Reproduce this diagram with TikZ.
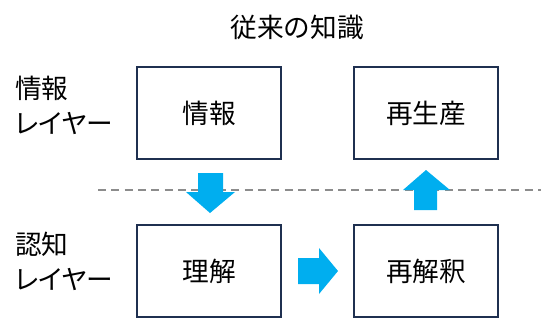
\documentclass[tikz,border=0pt]{standalone}
\usepackage{fontspec}
\setmainfont{Noto Sans CJK JP}
\newfontfamily\kanafont[RawFeature=+palt]{Noto Sans CJK JP}
\definecolor{boxline}{HTML}{1F3050}
\definecolor{arrowblue}{HTML}{00AEEF}
\definecolor{dashgray}{HTML}{8C8C8C}
\begin{document}
\begin{tikzpicture}[x=0.75pt,y=-0.75pt,
  lbl/.style={font=\fontsize{20pt}{26pt}\selectfont, inner sep=0pt},
  boxnode/.style={draw=boxline, line width=1.5pt, minimum width=108pt, minimum height=69pt, inner sep=0pt, font=\fontsize{20pt}{26pt}\selectfont},
  blockarrow/.style={fill=arrowblue, draw=none}]
\useasboundingbox (0,0) rectangle (541,319);
\node[lbl] (title) at (297,27) {従来の知識};
\node[lbl, align=left, anchor=north west, font=\fontsize{20pt}{26.25pt}\selectfont] (lay1) at (15,76) {情報\\{\kanafont レイヤー}};
\node[lbl, align=left, anchor=north west, font=\fontsize{20pt}{26.25pt}\selectfont] (lay2) at (15,232) {認知\\{\kanafont レイヤー}};
\draw[dashgray, line width=1pt, dash pattern=on 6pt off 4pt] (98,190) coordinate (dl) -- (541,190) coordinate (dr);
\node[boxnode] (info) at (209,113) {情報};
\node[boxnode] (repro) at (426,113) {再生産};
\node[boxnode] (under) at (209,271) {理解};
\node[boxnode] (reint) at (426,271) {再解釈};
% down arrow
\fill[blockarrow] (198,173) -- (223,173) -- (223,192) -- (235,192) -- (210,213) -- (186,192) -- (198,192) -- cycle;
% right arrow
\fill[blockarrow] (298,258) -- (319,258) -- (319,248) -- (338,271) -- (319,294) -- (319,284) -- (298,284) -- cycle;
% up arrow
\fill[blockarrow] (414,210) -- (437,210) -- (437,190) -- (450,190) -- (426,170) -- (403,190) -- (414,190) -- cycle;
\end{tikzpicture}
\end{document}
